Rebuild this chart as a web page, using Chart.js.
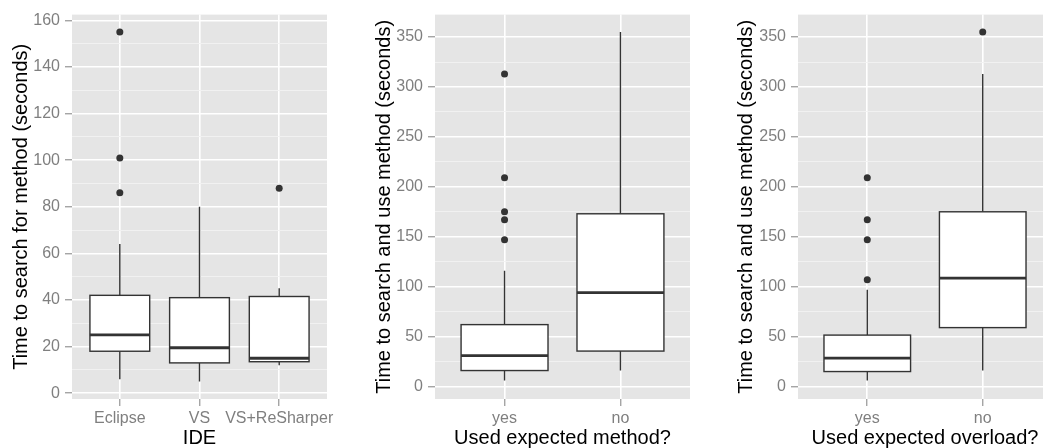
<!DOCTYPE html>
<html>
<head>
<meta charset="utf-8">
<script src="https://cdn.jsdelivr.net/npm/chart.js@4/dist/chart.umd.min.js"></script>
<style>
  html, body { margin: 0; padding: 0; background: #fff; overflow: hidden; }
  body { width: 1043px; height: 448px; position: relative; }
  canvas { position: absolute; top: 0; }
</style>
</head>
<body>
<canvas id="ide_chart" width="340" height="448" style="left:0px"></canvas>
<canvas id="method_chart" width="360" height="448" style="left:340px"></canvas>
<canvas id="overload_chart" width="360" height="448" style="left:700px"></canvas>
<script>
// Panel 1: time to search for method, by IDE
const ide_cats = ['Eclipse', 'VS', 'VS+ReSharper'];
const ide_low = [6, 5, 12];
const ide_q1 = [18, 13, 13.5];
const ide_median = [25, 19.5, 15];
const ide_q3 = [42, 41, 41.5];
const ide_high = [64, 80, 45];
const ide_outliers = [[86, 101, 155], [], [88]];
const ide_ticks = [0, 20, 40, 60, 80, 100, 120, 140, 160];

// Panel 2: time to search and use, by expected method
const method_cats = ['yes', 'no'];
const method_low = [6, 16];
const method_q1 = [16, 35.5];
const method_median = [31, 94];
const method_q3 = [62, 173];
const method_high = [116, 355];
const method_outliers = [[147, 167, 175, 209, 313], []];

// Panel 3: time to search and use, by expected overload
const overload_cats = ['yes', 'no'];
const overload_low = [6, 16];
const overload_q1 = [15, 59];
const overload_median = [28.5, 108.5];
const overload_q3 = [51.5, 175];
const overload_high = [97, 313];
const overload_outliers = [[107, 147, 167, 209], [355]];

const time_ticks = [0, 50, 100, 150, 200, 250, 300, 350];

const font_family = "'Liberation Sans', Arial, Helvetica, sans-serif";

// draws the grey panel and the boxes with whiskers through the chart scales
const boxPlugin = {
  id: 'boxes',
  beforeDraw(chart) {
    const a = chart.chartArea;
    const ctx = chart.ctx;
    ctx.save();
    ctx.fillStyle = '#e5e5e5';
    ctx.fillRect(a.left, a.top, a.right - a.left, a.bottom - a.top);
    ctx.restore();
  },
  beforeDatasetsDraw(chart) {
    const st = chart.options.plugins.boxes;
    const xs = chart.scales.x;
    const ys = chart.scales.y;
    const ctx = chart.ctx;
    ctx.save();
    for (let i = 0; i < st.low.length; i++) {
      const xc = xs.getPixelForValue(i + 1);
      const xl = xs.getPixelForValue(i + 1 - 0.375);
      const xr = xs.getPixelForValue(i + 1 + 0.375);
      const yLow = ys.getPixelForValue(st.low[i]);
      const yQ1 = ys.getPixelForValue(st.q1[i]);
      const yMed = ys.getPixelForValue(st.median[i]);
      const yQ3 = ys.getPixelForValue(st.q3[i]);
      const yHigh = ys.getPixelForValue(st.high[i]);
      ctx.strokeStyle = '#333333';
      ctx.lineWidth = 1.4;
      // whiskers
      ctx.beginPath();
      ctx.moveTo(xc, yLow); ctx.lineTo(xc, yQ1);
      ctx.moveTo(xc, yQ3); ctx.lineTo(xc, yHigh);
      ctx.stroke();
      // box
      ctx.fillStyle = '#ffffff';
      ctx.fillRect(xl, yQ3, xr - xl, yQ1 - yQ3);
      ctx.strokeRect(xl, yQ3, xr - xl, yQ1 - yQ3);
      // median
      ctx.lineWidth = 2.8;
      ctx.beginPath();
      ctx.moveTo(xl, yMed); ctx.lineTo(xr, yMed);
      ctx.stroke();
    }
    ctx.restore();
  }
};

function makePanel(id, cats, low, q1, median, q3, high, outliers, majors, yMin, yMax,
                   xTitle, yTitle, axisWidth, yTitlePad, padRight) {
  // minor grid lines halfway between the labelled ones
  let all_ticks = [];
  for (let i = 0; i < majors.length; i++) {
    all_ticks.push(majors[i]);
    if (i < majors.length - 1) all_ticks.push((majors[i] + majors[i + 1]) / 2);
  }
  const points = [];
  outliers.forEach(function (arr, i) {
    arr.forEach(function (v) { points.push({ x: i + 1, y: v }); });
  });
  const isMajor = function (c) { return c.tick && majors.includes(c.tick.value); };

  return new Chart(document.getElementById(id).getContext('2d'), {
    type: 'scatter',
    data: {
      datasets: [{
        data: points,
        pointRadius: 3.5,
        pointHoverRadius: 3.5,
        backgroundColor: '#333333',
        borderWidth: 0
      }]
    },
    plugins: [boxPlugin],
    options: {
      responsive: false,
      animation: false,
      devicePixelRatio: 1,
      layout: { padding: { top: 9, right: padRight, left: 0, bottom: 0 } },
      plugins: {
        legend: { display: false },
        tooltip: { enabled: false },
        boxes: { low: low, q1: q1, median: median, q3: q3, high: high }
      },
      scales: {
        x: {
          type: 'linear',
          min: 0.4,
          max: cats.length + 0.6,
          afterBuildTicks: function (s) { s.ticks = cats.map(function (c, i) { return { value: i + 1 }; }); },
          afterFit: function (s) { s.height = 49; },
          border: { display: false },
          grid: { color: '#ffffff', lineWidth: 1.6, tickColor: '#7f7f7f', tickLength: 7, tickWidth: 1 },
          ticks: {
            autoSkip: false,
            maxRotation: 0,
            padding: 3,
            color: '#7f7f7f',
            font: { family: font_family, size: 16 },
            callback: function (v) { return cats[v - 1]; }
          },
          title: {
            display: true,
            text: xTitle,
            color: '#000000',
            padding: { top: 0, bottom: -2 },
            font: { family: font_family, size: 20 }
          }
        },
        y: {
          type: 'linear',
          min: yMin,
          max: yMax,
          afterBuildTicks: function (s) { s.ticks = all_ticks.map(function (v) { return { value: v }; }); },
          afterFit: function (s) { s.width = axisWidth; },
          border: { display: false },
          grid: {
            color: function (c) { return isMajor(c) ? '#ffffff' : '#f2f2f2'; },
            lineWidth: function (c) { return isMajor(c) ? 1.6 : 0.9; },
            tickColor: function (c) { return isMajor(c) ? '#7f7f7f' : 'rgba(0,0,0,0)'; },
            tickLength: 7,
            tickWidth: 1
          },
          ticks: {
            autoSkip: false,
            padding: 5,
            color: '#7f7f7f',
            font: { family: font_family, size: 16 },
            callback: function (v) { return majors.includes(v) ? String(v) : ''; }
          },
          title: {
            display: true,
            text: yTitle,
            color: '#000000',
            padding: { top: yTitlePad, bottom: 0 },
            font: { family: font_family, size: 20 }
          }
        }
      }
    }
  });
}

var ide_chart = makePanel('ide_chart', ide_cats, ide_low, ide_q1, ide_median, ide_q3, ide_high,
  ide_outliers, ide_ticks, -2.5, 162.5, 'IDE', 'Time to search for method (seconds)', 72, 9, 13);

var method_chart = makePanel('method_chart', method_cats, method_low, method_q1, method_median,
  method_q3, method_high, method_outliers, time_ticks, -12.5, 372.5,
  'Used expected method?', 'Time to search and use method (seconds)', 95, 32, 10);

var overload_chart = makePanel('overload_chart', overload_cats, overload_low, overload_q1,
  overload_median, overload_q3, overload_high, overload_outliers, time_ticks, -12.5, 372.5,
  'Used expected overload?', 'Time to search and use method (seconds)', 98, 34, 8);
</script>
</body>
</html>
